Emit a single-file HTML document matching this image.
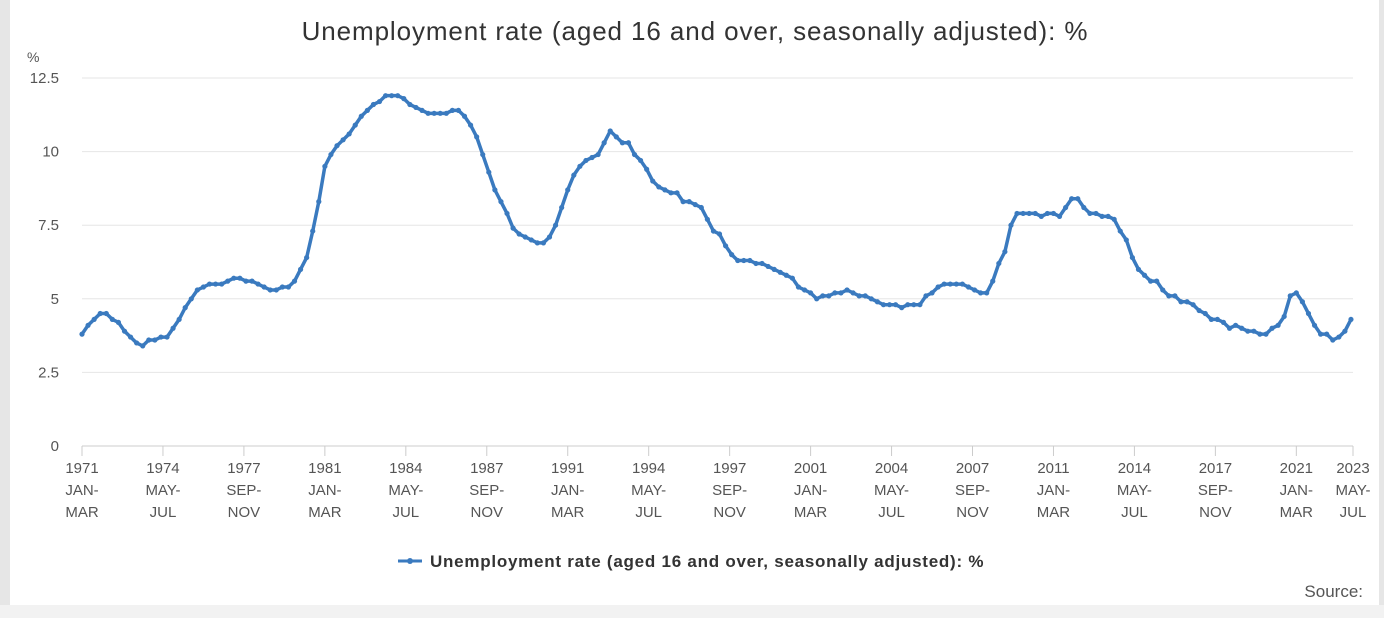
<!DOCTYPE html>
<html><head><meta charset="utf-8"><style>
body{margin:0;width:1384px;height:618px;background:#fff;font-family:"Liberation Sans",sans-serif;overflow:hidden;position:relative}
#lb{position:absolute;left:0;top:0;width:10px;height:618px;background:#e6e6e6}
#rb{position:absolute;left:1379px;top:0;width:5px;height:618px;background:#e6e6e6}
#bb{position:absolute;left:0;top:605px;width:1384px;height:13px;background:#f2f2f2}
</style></head><body>
<div id="lb"></div>
<div id="rb"></div>
<div id="bb"></div>
<svg id="chart" width="1384" height="618" style="position:absolute;left:0;top:0"></svg>
<script>
const yTicks=[0,2.5,5,7.5,10,12.5];
const yTickLabels=["0","2.5","5","7.5","10","12.5"];
const xTickMonths=[0,40,80,120,160,200,240,280,320,360,400,440,480,520,560,600,628];
const xTickLabels=[["1971","JAN-","MAR"],["1974","MAY-","JUL"],["1977","SEP-","NOV"],["1981","JAN-","MAR"],["1984","MAY-","JUL"],["1987","SEP-","NOV"],["1991","JAN-","MAR"],["1994","MAY-","JUL"],["1997","SEP-","NOV"],["2001","JAN-","MAR"],["2004","MAY-","JUL"],["2007","SEP-","NOV"],["2011","JAN-","MAR"],["2014","MAY-","JUL"],["2017","SEP-","NOV"],["2021","JAN-","MAR"],["2023","MAY-","JUL"]];
// quarterly values from 1971 Q1
const rates=[3.8,4.1,4.3,4.5, 4.5,4.3,4.2,3.9, 3.7,3.5,3.4,3.6, 3.6,3.7,3.7,4.0, 4.3,4.7,5.0,5.3, 5.4,5.5,5.5,5.5, 5.6,5.7,5.7,5.6, 5.6,5.5,5.4,5.3, 5.3,5.4,5.4,5.6, 6.0,6.4,7.3,8.3,
9.5,9.9,10.2,10.4, 10.6,10.9,11.2,11.4, 11.6,11.7,11.9,11.9, 11.9,11.8,11.6,11.5, 11.4,11.3,11.3,11.3, 11.3,11.4,11.4,11.2, 10.9,10.5,9.9,9.3, 8.7,8.3,7.9,7.4, 7.2,7.1,7.0,6.9, 6.9,7.1,7.5,8.1,
8.7,9.2,9.5,9.7, 9.8,9.9,10.3,10.7, 10.5,10.3,10.3,9.9, 9.7,9.4,9.0,8.8, 8.7,8.6,8.6,8.3, 8.3,8.2,8.1,7.7, 7.3,7.2,6.8,6.5, 6.3,6.3,6.3,6.2, 6.2,6.1,6.0,5.9, 5.8,5.7,5.4,5.3,
5.2,5.0,5.1,5.1, 5.2,5.2,5.3,5.2, 5.1,5.1,5.0,4.9, 4.8,4.8,4.8,4.7, 4.8,4.8,4.8,5.1, 5.2,5.4,5.5,5.5, 5.5,5.5,5.4,5.3, 5.2,5.2,5.6,6.2, 6.6,7.5,7.9,7.9, 7.9,7.9,7.8,7.9,
7.9,7.8,8.1,8.4, 8.4,8.1,7.9,7.9, 7.8,7.8,7.7,7.3, 7.0,6.4,6.0,5.8, 5.6,5.6,5.3,5.1, 5.1,4.9,4.9,4.8, 4.6,4.5,4.3,4.3, 4.2,4.0,4.1,4.0, 3.9,3.9,3.8,3.8, 4.0,4.1,4.4,5.1,
5.2,4.9,4.5,4.1, 3.8,3.8,3.6,3.7, 3.9,4.3];
const NS="http://www.w3.org/2000/svg";
const svg=document.getElementById('chart');
const X0=82,X1=1353,Y0=446,Y1=78,MAXM=628;
const xs=m=>X0+(m/MAXM)*(X1-X0);
const ys=v=>Y0-(v/12.5)*(Y0-Y1);
function mk(t,a,txt){const e=document.createElementNS(NS,t);for(const k in a)e.setAttribute(k,a[k]);if(txt!==undefined)e.textContent=txt;svg.appendChild(e);return e;}
let e=mk('text',{x:695,y:40,'text-anchor':'middle','font-size':26,'letter-spacing':0.9,fill:'#333'},'Unemployment rate (aged 16 and over, seasonally adjusted): %');


e=mk('text',{x:27,y:62,'font-size':14,fill:'#555'},'%');


yTicks.forEach((t,i)=>{
 const g=mk('line',{x1:X0,x2:X1,y1:ys(t),y2:ys(t),stroke:t===0?'#ccc':'#e6e6e6','stroke-width':1});
 
 
 const l=mk('text',{x:59,y:ys(t)+5,'text-anchor':'end','font-size':15,fill:'#555'},yTickLabels[i]);
 
 
});
xTickMonths.forEach((m,i)=>{
 const x=xs(m);
 const t=mk('line',{x1:x,x2:x,y1:Y0,y2:Y0+10,stroke:'#ccc'});
 
 
 xTickLabels[i].forEach((s,j)=>{
  const l=mk('text',{x:x,y:473+j*22,'text-anchor':'middle','font-size':15,fill:'#555'},s);
  
  
 });
});
const pts=rates.map((v,i)=>[xs(Math.min(i*3,MAXM)),ys(v)]);
const line=mk('polyline',{points:pts.map(p=>p.join(',')).join(' '),fill:'none',stroke:'#3a7abf','stroke-width':3.5,'stroke-linejoin':'round'});


pts.forEach(p=>{
 const c=mk('circle',{cx:p[0],cy:p[1],r:2.6,fill:'#3a7abf'});
 
 
});
const lg=mk('line',{x1:398,x2:422,y1:561,y2:561,stroke:'#3a7abf','stroke-width':3});


const lc=mk('circle',{cx:410,cy:561,r:3,fill:'#3a7abf'});


const lt=mk('text',{x:430,y:567,'font-size':17,'font-weight':'bold','letter-spacing':0.75,fill:'#333'},'Unemployment rate (aged 16 and over, seasonally adjusted): %');


const src=mk('text',{x:1363,y:597,'text-anchor':'end','font-size':17,fill:'#555'},'Source:');


</script>
</body></html>
